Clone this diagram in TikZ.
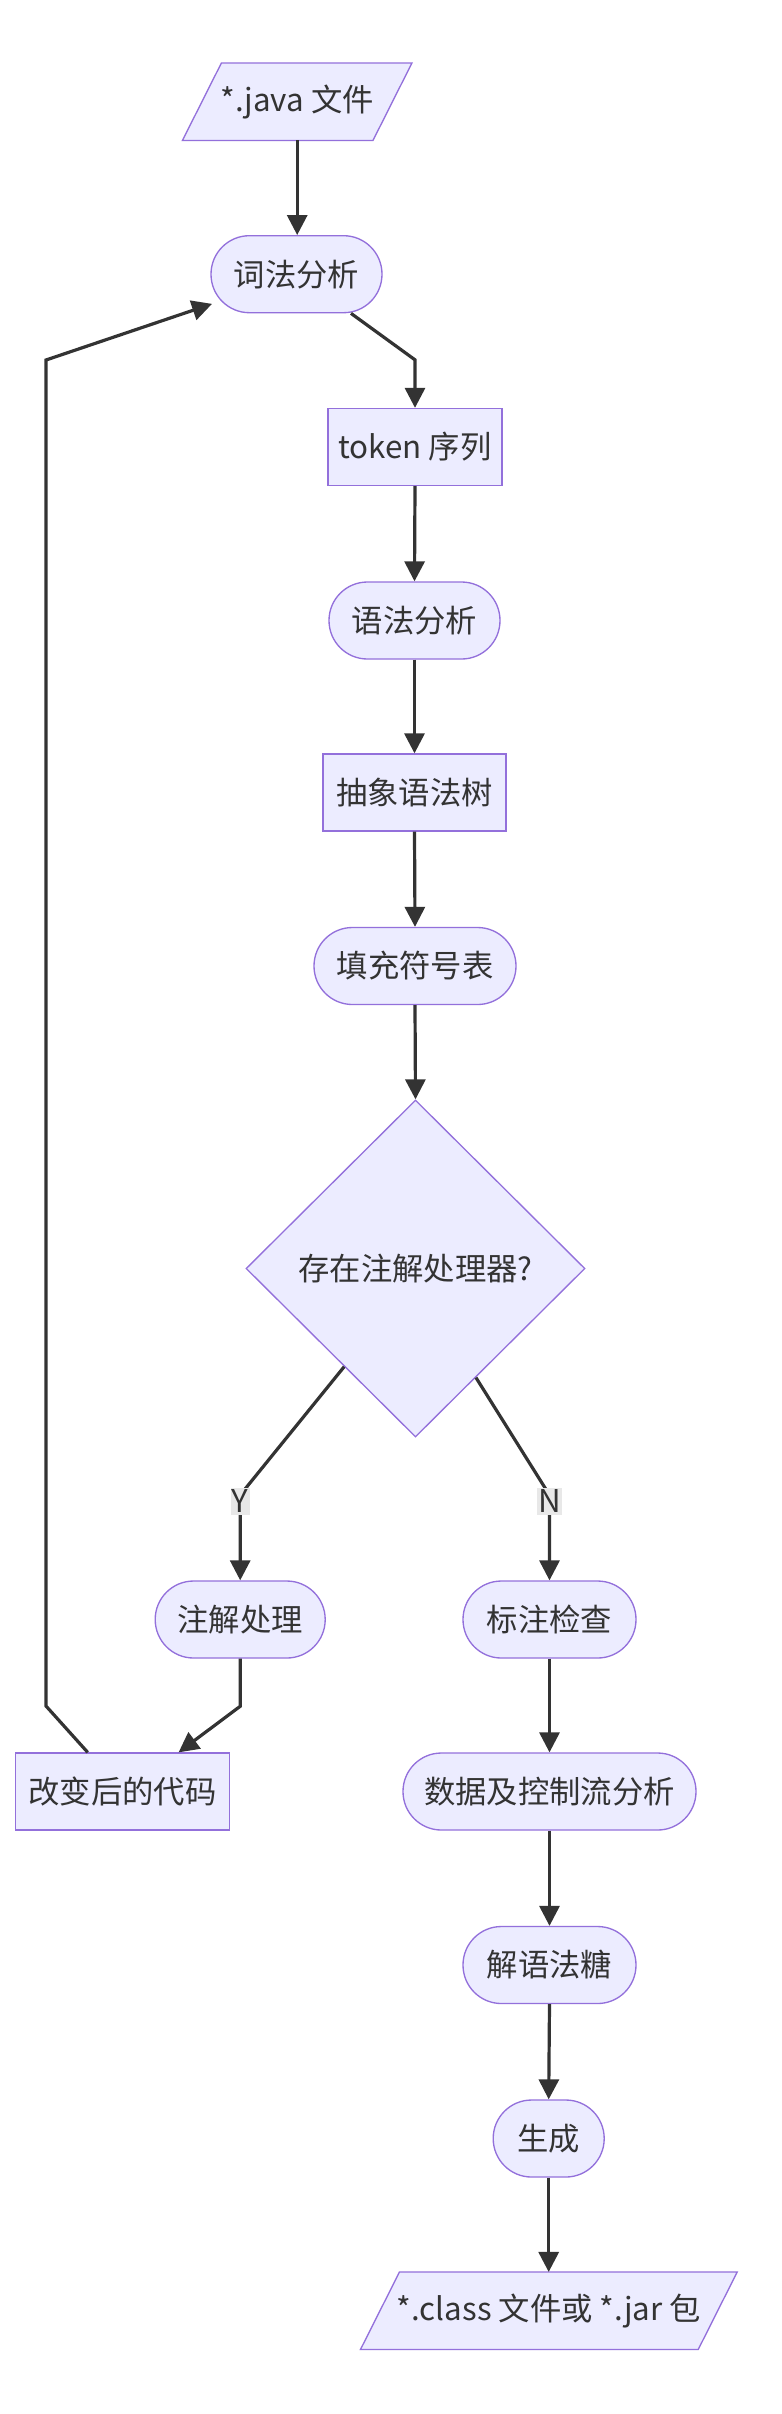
\documentclass[tikz,border=0pt]{standalone}
\usepackage{fontspec}
\setmainfont{Noto Sans CJK SC}
\usetikzlibrary{arrows.meta,calc,shapes.geometric,backgrounds}
\definecolor{nfill}{HTML}{ECECFF}
\definecolor{nborder}{HTML}{9370DB}
\definecolor{ink}{HTML}{333333}
\definecolor{lblbg}{HTML}{E8E8E8}
\tikzset{
  nodefont/.style={font=\fontsize{23.5}{28}\selectfont},
  base/.style={draw=nborder, fill=nfill, line width=1pt, text=ink, nodefont, inner sep=0pt, minimum height=57.75pt},
  stadium/.style={base, rectangle, rounded corners=28.8pt},
  box/.style={base, rectangle},
  decision/.style={base, diamond},
  iotext/.style={rectangle, text=ink, nodefont, inner sep=0pt, minimum height=57.75pt},
  ioshape/.style={draw=nborder, fill=nfill, line width=1pt},
  flow/.style={draw=ink, line width=2.4pt, -{Triangle[length=15pt,width=15pt]}},
  lbl/.style={fill=lblbg, text=ink, nodefont, inner xsep=1pt, inner ysep=1.5pt}
}
\begin{document}
\begin{tikzpicture}[x=0.75pt,y=-0.75pt]
\useasboundingbox (0,0) rectangle (782,2414);

% nodes
\node[iotext, minimum width=190*0.75pt] (java) at (297.2,101.7) {*.java 文件};
\node[stadium, minimum width=171*0.75pt] (lex) at (296.5,274.2) {词法分析};
\node[box, minimum width=174*0.75pt] (tok) at (415,447) {token 序列};
\node[stadium, minimum width=171*0.75pt] (syn) at (414.5,620.5) {语法分析};
\node[box, minimum width=183*0.75pt] (ast) at (414.5,792.5) {抽象语法树};
\node[stadium, minimum width=202*0.75pt] (sym) at (415,966) {填充符号表};
\node[decision, minimum width=339*0.75pt, minimum height=337*0.75pt] (dia) at (415.5,1268.5) {存在注解处理器?};
\node[stadium, minimum width=170*0.75pt] (ann) at (240.2,1619.5) {注解处理};
\node[stadium, minimum width=173*0.75pt] (chk) at (549.5,1619.5) {标注检查};
\node[box, minimum width=214*0.75pt] (chg) at (122.4,1791.5) {改变后的代码};
\node[stadium, minimum width=293*0.75pt] (flw) at (549.5,1791.5) {数据及控制流分析};
\node[stadium, minimum width=173*0.75pt] (sug) at (549.5,1965) {解语法糖};
\node[stadium, minimum width=111*0.75pt] (gen) at (548.7,2138.5) {生成};
\node[iotext, minimum width=337.2*0.75pt] (cls) at (548.85,2310.7) {*.class 文件或 *.jar 包};

% parallelogram outlines
\begin{scope}[on background layer]
\draw[ioshape] ($(java.south west)+(-19.5,0)$) -- ($(java.south east)+(-19.5,0)$) -- ($(java.north east)+(19.5,0)$) -- ($(java.north west)+(19.5,0)$) -- cycle;
\draw[ioshape] ($(cls.south west)+(-19.5,0)$) -- ($(cls.south east)+(-19.5,0)$) -- ($(cls.north east)+(19.5,0)$) -- ($(cls.north west)+(19.5,0)$) -- cycle;
\end{scope}

% bend coordinates
\coordinate (yb) at (240.2,1495);
\coordinate (nb) at (549.5,1495);
\coordinate (r1) at (46,1706);
\coordinate (r2) at (46,360);

% connectors
\draw[flow] (java.south) -- (java.south |- lex.north);
\draw[flow] ($(lex.south)+(54.5,0)$) -- ($(tok.north)+(0,-48)$) -- (tok.north);
\draw[flow] (tok.south) -- (syn.north);
\draw[flow] (syn.south) -- (ast.north);
\draw[flow] (ast.south) -- (sym.north);
\draw[flow] (sym.south) -- (dia.north);
\draw[flow] (dia.-126) -- (yb) -- (ann.north);
\draw[flow] (dia.-61.5) -- (nb) -- (chk.north);
\draw[flow] (ann.south) -- ++(0,47.6) -- ($(chg.north)+(56.2,0)$);
\draw[flow] ($(chg.north)+(-34.7,0)$) -- (r1) -- (r2) -- ($(lex.south west)+(1.7,-9.5)$);
\draw[flow] (chk.south) -- (flw.north);
\draw[flow] (flw.south) -- (sug.north);
\draw[flow] (sug.south) -- (gen.north);
\draw[flow] (gen.south) -- (gen.south |- cls.north);

% edge labels
\node[lbl] (ylbl) at (240.2,1501) {Y};
\node[lbl] (nlbl) at (549.5,1501) {N};
\end{tikzpicture}
\end{document}
